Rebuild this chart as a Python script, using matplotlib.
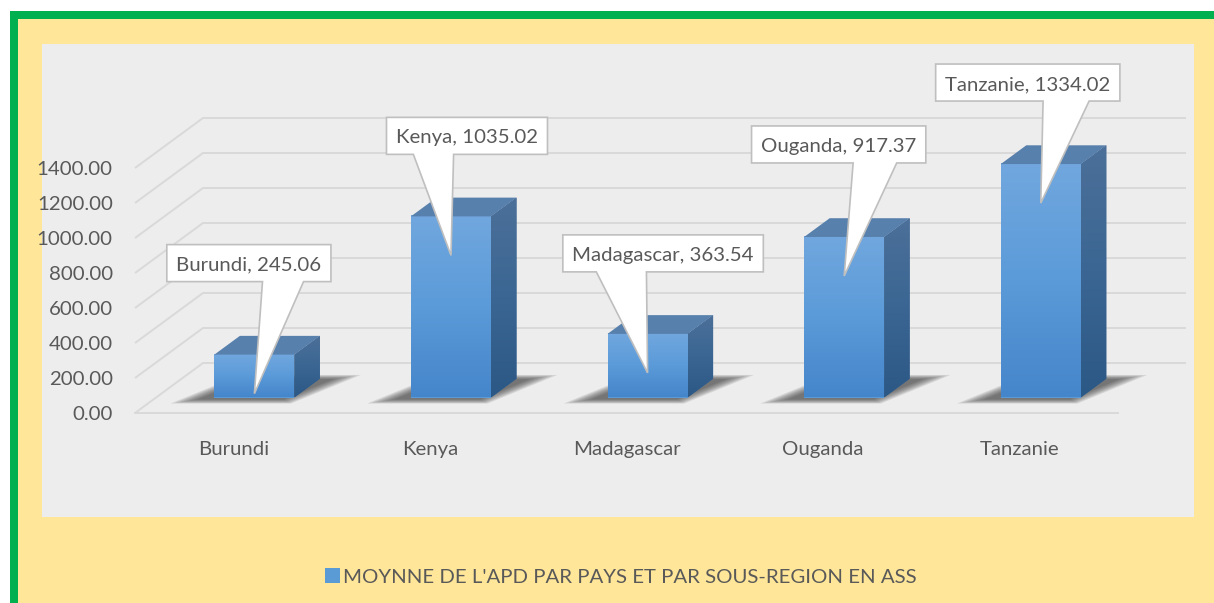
import numpy as np
import matplotlib
matplotlib.use("Agg")
import matplotlib.pyplot as plt
from matplotlib.patches import Polygon, Rectangle
from matplotlib.colors import LinearSegmentedColormap

# ---------------- data ----------------
categories = ["Burundi", "Kenya", "Madagascar", "Ouganda", "Tanzanie"]
values = [245.06, 1035.02, 363.54, 917.37, 1334.02]
y_ticks = [0, 200, 400, 600, 800, 1000, 1200, 1400]
series_name = "MOYNNE DE L'APD PAR PAYS ET PAR SOUS-REGION EN ASS"

# ---------------- layout / style ----------------
plt.rcParams['font.family'] = ['Lato', 'DejaVu Sans']
TEXT_COLOR = "#595959"
FS = 14.7
W, H, DPI = 1214, 603, 100
label_offsets_px = [(-5.5, 130.5), (16, 119.5), (15.5, 119.5), (-5.5, 131.5), (-13, 120.5)]

fig = plt.figure(figsize=(W / DPI, H / DPI), dpi=DPI, facecolor="white")


def fx(px):
    return px / W


def fy(py):
    return 1 - py / H


# outer frame (green border, yellow chart area)
fig.add_artist(Rectangle((fx(10), fy(700)), fx(1400), (700 - 11) / H, transform=fig.transFigure,
                         facecolor="#00B050", edgecolor="none", zorder=-3))
fig.add_artist(Rectangle((fx(17.5), fy(700)), fx(1400), (700 - 19) / H, transform=fig.transFigure,
                         facecolor="#FFE699", edgecolor="none", zorder=-2))

# plot area
ax = fig.add_axes([fx(42), fy(517), (1194 - 42) / W, (517 - 44) / H])
ax.set_zorder(1)
ax.set_facecolor("#EDEDED")
for s in ax.spines.values():
    s.set_visible(False)

n = len(categories)
PX_CAT = 196.6
PX_VAL = 0.175
xlim = (-0.5 + (42 - 135) / PX_CAT, -0.5 + (1194 - 135) / PX_CAT)
ylim = ((413 - 517) / PX_VAL, (413 - 44) / PX_VAL)
DX = 68 / PX_CAT      # depth shift (category units)
DY = 50 / PX_VAL      # depth shift (value units)

# walls gridlines
for v in y_ticks:
    ax.plot([-0.5, -0.5 + DX, n - 0.5 + DX], [v, v + DY, v + DY], color="#D9D9D9", lw=1.4,
            zorder=1, solid_capstyle="butt")
ax.plot([-0.5, n - 0.5], [0, 0], color="#D9D9D9", lw=1.4, zorder=1)

# bars
d0, d1 = 0.31, 0.685
bw = 80 / PX_CAT
xfront = np.arange(n) + d0 * DX
base = d0 * DY
ddx = (d1 - d0) * DX
ddy = (d1 - d0) * DY


def P(xc, d):
    return (xc + d * DX, d * DY)


# shadows
for i in range(n):
    xl, xr = i - bw / 2, i + bw / 2
    pts = np.array([P(xl - 0.14, 0.22), P(xr, 0.22), P(xr + 0.14, 0.73), P(xl, 0.73)])
    c = pts.mean(axis=0)
    for k, sc in enumerate(np.linspace(1.12, 0.8, 7)):
        ax.add_patch(Polygon(c + (pts - c) * sc, closed=True, facecolor="#303030",
                             edgecolor="none", alpha=0.13, zorder=2))

bars = ax.bar(xfront, values, width=bw, bottom=base, color="#5B9BD5", zorder=4, label=series_name)

front_cmap = LinearSegmentedColormap.from_list("front", ["#4585CA", "#5B9BD9", "#71A7DE"])
side_cmap = LinearSegmentedColormap.from_list("side", ["#2C5886", "#3B6693", "#4C7099"])
grad = np.linspace(0, 1, 256).reshape(-1, 1)

for i, b in enumerate(bars):
    xl = b.get_x()
    xr = xl + b.get_width()
    top = b.get_y() + b.get_height()
    bot = b.get_y()
    ax.imshow(grad, extent=[xl, xr, bot, top], origin="lower", cmap=front_cmap,
              aspect="auto", zorder=4.1, interpolation="bilinear")
    side = Polygon([(xr, bot), (xr + ddx, bot + ddy), (xr + ddx, top + ddy), (xr, top)],
                   closed=True, facecolor="#3B6693", edgecolor="none", zorder=4)
    ax.add_patch(side)
    im = ax.imshow(grad, extent=[xr, xr + ddx, bot, top + ddy], origin="lower", cmap=side_cmap,
                   aspect="auto", zorder=4.1, interpolation="bilinear")
    im.set_clip_path(side)
    ax.add_patch(Polygon([(xl, top), (xr, top), (xr + ddx, top + ddy), (xl + ddx, top + ddy)],
                         closed=True, facecolor="#5880AC", edgecolor="none", zorder=4.2))

ax.set_xlim(*xlim)
ax.set_ylim(*ylim)
ax.set_aspect("auto")

# axes tick labels
ax.set_yticks(y_ticks)
ax.set_yticklabels([f"{v:.2f}" for v in y_ticks])
ax.set_xticks(range(n))
ax.set_xticklabels(categories)
ax.tick_params(axis="y", length=0, pad=-51, labelsize=FS, labelcolor=TEXT_COLOR)
ax.tick_params(axis="x", length=0, pad=-55, labelsize=FS, labelcolor=TEXT_COLOR)

# data callouts
fig.canvas.draw()
renderer = fig.canvas.get_renderer()
inv = ax.transData.inverted()
cap_px = 0.72 * FS * DPI / 72
for i, b in enumerate(bars):
    top = b.get_y() + b.get_height()
    tip = ax.transData.transform((xfront[i], top)) - np.array([0, 39])
    cx, cy = tip + np.array(label_offsets_px[i])
    t = ax.text(*inv.transform((cx, cy - cap_px / 2)), f"{categories[i]}, {values[i]:.2f}",
                ha="center", va="baseline", fontsize=FS, color=TEXT_COLOR, zorder=11)
    ext = t.get_window_extent(renderer)
    hw = ext.width / 2 + 9.5
    hh = 18.5
    L, R, B, T = cx - hw, cx + hw, cy - hh, cy + hh
    wdt = R - L
    if tip[0] > cx:
        b1, b2 = L + 0.583 * wdt, L + 0.833 * wdt
    else:
        b1, b2 = L + 0.167 * wdt, L + 0.417 * wdt
    verts = [(L, T), (R, T), (R, B), (b2, B), tuple(tip), (b1, B), (L, B)]
    ax.add_patch(Polygon(inv.transform(verts), closed=True, facecolor="white",
                         edgecolor="#BFBFBF", lw=1.2, zorder=10, joinstyle="miter"))

# legend
fig.legend(handles=[bars], labels=[series_name], loc="center",
           bbox_to_anchor=(fx(621), fy(577)), frameon=False, fontsize=FS,
           labelcolor=TEXT_COLOR, handlelength=0.72, handleheight=0.72, handletextpad=0.15)

fig.savefig("out.png", dpi=DPI, facecolor="white")
